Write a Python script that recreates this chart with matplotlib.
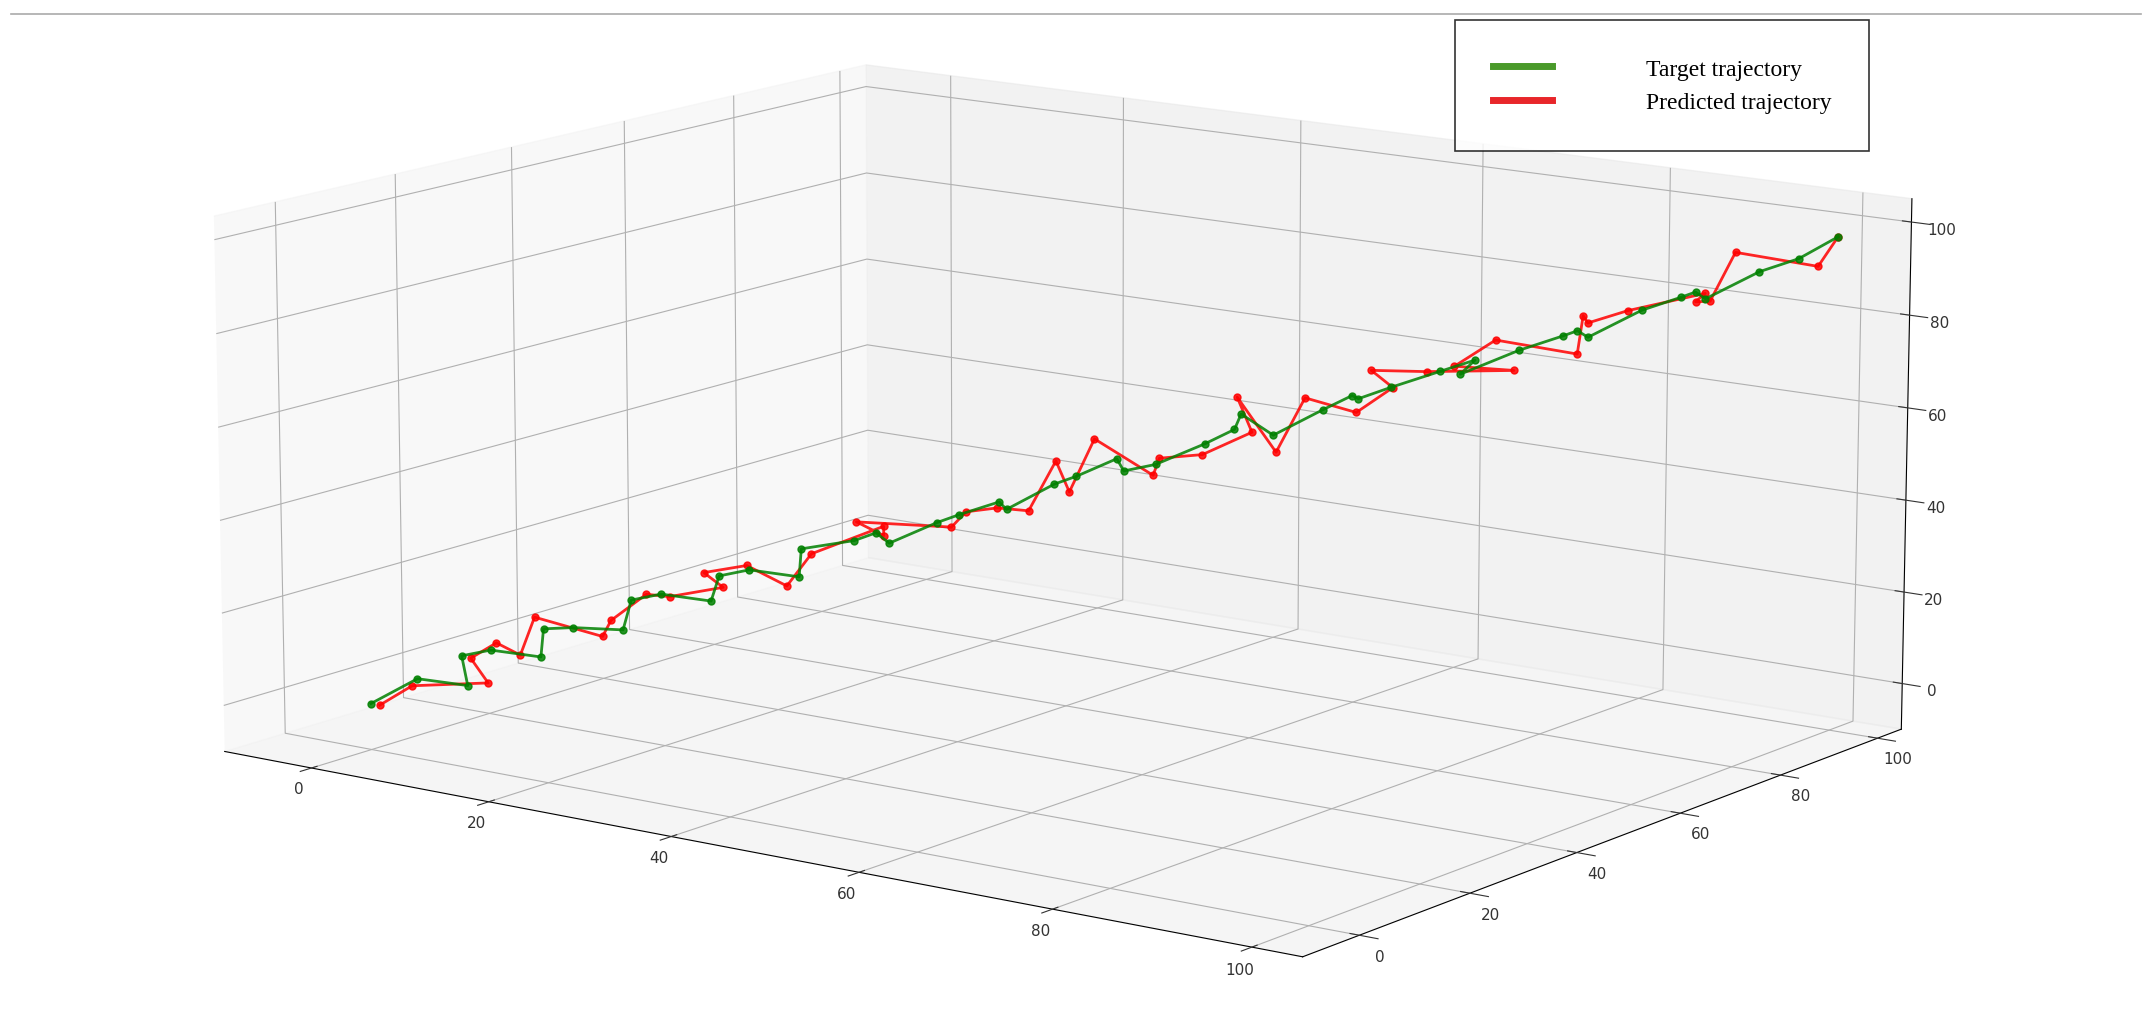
import numpy as np
import matplotlib
matplotlib.use("Agg")
import matplotlib.pyplot as plt
from matplotlib.lines import Line2D

target_x = [0,4,7,5,9,12,11,15,18,17,21,24,23,27,30,29,33,36,35,39,42,44,43,47,50,52,51,55,58,60,59,63,66,68,67,71,74,76,75,79,82,84,83,87,90,92,91,95,98,100]
target_y = [0,2,6,8,7,11,13,12,16,19,18,22,25,24,28,30,33,32,36,38,37,41,44,46,45,49,52,51,55,57,60,59,63,65,68,67,71,74,73,77,80,79,83,86,88,87,91,94,96,100]
target_z = [0,6,4,9,12,10,15,17,16,21,24,22,26,29,27,32,34,37,33,38,41,43,40,46,49,52,48,51,55,58,60,57,62,65,63,67,70,72,69,74,77,79,76,82,85,87,84,90,93,97]
error_x = [1,-2,3,-1,2,-3,1,2,-2,3,-1,2,-3,1,-2,3,2,-1,-3,1,2,-2,3,-1,1,-3,2,1,-2,3,-1,2,-3,1,2,-1,-2,3,1,-3,2,-1,1,-2,3,-1,2,-3,1,0]
error_y = [0,2,-1,3,-2,1,-3,2,1,-2,3,-1,2,-2,1,-3,2,3,-1,1,-2,3,-1,2,-3,1,2,-1,3,-2,1,-3,2,-1,3,-2,1,2,-3,1,-1,3,-2,1,-1,2,-3,1,2,0]
error_z = [0,-3,2,-2,3,-1,4,-2,1,3,-2,4,-1,2,-3,1,3,-2,4,-1,2,-3,1,4,-2,3,-1,2,-4,1,3,-2,1,-3,2,4,-1,-2,3,1,-3,2,4,-1,2,-3,1,3,-2,0]

tx, ty, tz = map(np.array, (target_x, target_y, target_z))
px, py, pz = tx + np.array(error_x), ty + np.array(error_y), tz + np.array(error_z)

fig = plt.figure(figsize=(21.52, 10.2), dpi=100)
w, h = 1.023, 1.69
ax = fig.add_axes([0.485 - w / 2, 0.51 - h / 2, w, h], projection='3d')
ax.set_box_aspect((2.57, 2.09, 1.07))
ax.view_init(elev=12.5, azim=-54)

ax.plot(px, py, pz, color='red', lw=2, marker='o', ms=5, alpha=0.85)
ax.plot(tx, ty, tz, color='green', lw=2, marker='o', ms=5, alpha=0.85)

ax.set_xlim(-10, 105); ax.set_ylim(-10, 105); ax.set_zlim(-10, 105)
for a in (ax.xaxis, ax.yaxis, ax.zaxis):
    a.set_ticks([0, 20, 40, 60, 80, 100])
ax.tick_params(labelsize=11, colors='#333333')

handles = [Line2D([], [], color='#4a9a2a', lw=5), Line2D([], [], color='#e8262a', lw=5)]
leg = fig.legend(handles, ['Target trajectory', 'Predicted trajectory'],
                 loc='upper left', bbox_to_anchor=(0.676, 0.979), fancybox=False,
                 edgecolor='black', borderpad=1.6, handlelength=2.5, handletextpad=4.0,
                 borderaxespad=0, prop={'family': 'Liberation Serif', 'size': 17})
leg.get_frame().set_linewidth(1.2)
fig.add_artist(Line2D([0.005, 0.995], [0.985, 0.985], color='#aaaaaa', lw=1.2))
fig.savefig('out.png', dpi=100)
